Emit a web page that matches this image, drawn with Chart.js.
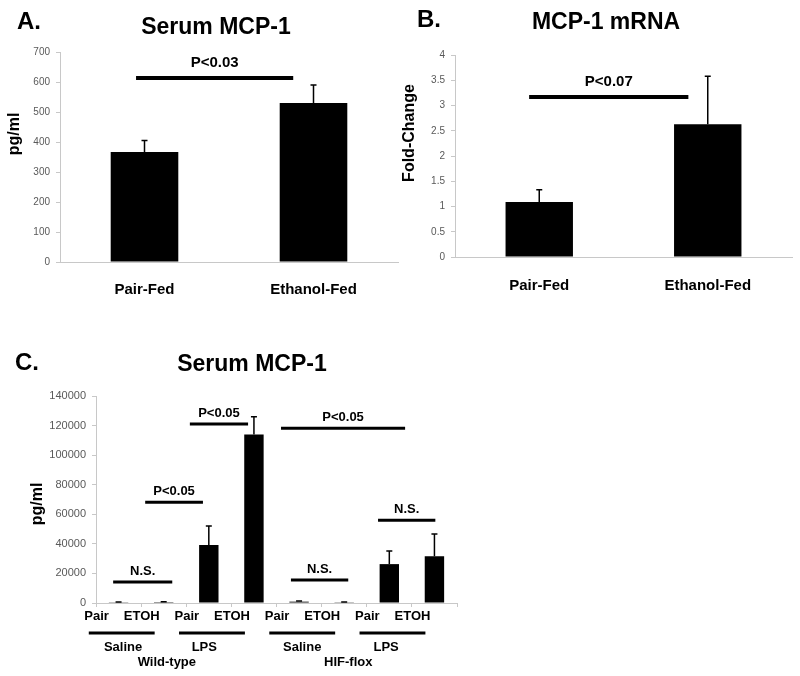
<!DOCTYPE html>
<html>
<head>
<meta charset="utf-8">
<script src="https://cdn.jsdelivr.net/npm/chart.js@4/dist/chart.umd.min.js"></script>
<style>
  body { margin: 0; background: #fff; }
  .panel { position: absolute; }
</style>
</head>
<body>
<div class="panel" style="left:0;top:0"><canvas id="chartA" width="400" height="310"></canvas></div>
<div class="panel" style="left:400px;top:0"><canvas id="chartB" width="400" height="310"></canvas></div>
<div class="panel" style="left:0;top:320px"><canvas id="chartC" width="470" height="356"></canvas></div>
<script>
// panel A - serum MCP-1 (pg/ml)
const groupsA = ['Pair-Fed', 'Ethanol-Fed'];
const serumA = [367, 530];
const serumErrA = [38, 60];
const sigA = [{ label: 'P<0.03', from: -0.05, to: 0.88, y: 613 }];

// panel B - MCP-1 mRNA (fold change)
const groupsB = ['Pair-Fed', 'Ethanol-Fed'];
const mrnaB = [1.09, 2.63];
const mrnaErrB = [0.24, 0.95];
const sigB = [{ label: 'P<0.07', from: -0.06, to: 0.885, y: 3.17 }];

// panel C - serum MCP-1 by genotype / treatment
const dietC = ['Pair', 'ETOH', 'Pair', 'ETOH', 'Pair', 'ETOH', 'Pair', 'ETOH'];
const serumC = [500, 600, 39200, 114000, 900, 500, 26300, 31700];
const serumErrC = [200, 200, 12800, 12000, 500, 200, 8800, 14900];
const treatmentC = ['Saline', 'LPS', 'Saline', 'LPS'];
const treatmentPosC = [0.1, 1.9, 4.07, 5.93];
const strainC = ['Wild-type', 'HIF-flox'];
const strainPosC = [1.07, 5.09];
const sigC = [
  { label: 'N.S.', from: -0.12, to: 1.19, y: 14200 },
  { label: 'P<0.05', from: 0.59, to: 1.87, y: 68200 },
  { label: 'P<0.05', from: 1.58, to: 2.87, y: 121000 },
  { label: 'P<0.05', from: 3.6, to: 6.35, y: 118200 },
  { label: 'N.S.', from: 3.82, to: 5.09, y: 15500 },
  { label: 'N.S.', from: 5.75, to: 7.02, y: 56000 }
];

const FONT = '"Liberation Sans", Arial, Helvetica, sans-serif';

// error bars, significance lines and panel texts
const panelDecor = {
  id: 'panelDecor',
  afterDatasetsDraw(chart, args, opts) {
    const ctx = chart.ctx;
    const xs = chart.scales.x, ys = chart.scales.y;
    const meta = chart.getDatasetMeta(0);
    const values = chart.data.datasets[0].data;
    ctx.save();
    ctx.strokeStyle = '#000';
    ctx.fillStyle = '#000';

    // upper error whiskers
    ctx.lineWidth = 1.5;
    opts.errors.forEach((e, i) => {
      const bar = meta.data[i];
      const top = ys.getPixelForValue(values[i] + e);
      ctx.beginPath();
      ctx.moveTo(bar.x, bar.y);
      ctx.lineTo(bar.x, top);
      ctx.moveTo(bar.x - 3, top);
      ctx.lineTo(bar.x + 3, top);
      ctx.stroke();
    });

    // significance bars
    ctx.textAlign = 'center';
    ctx.textBaseline = 'middle';
    ctx.font = 'bold ' + opts.sigSize + 'px ' + FONT;
    opts.sig.forEach(s => {
      const x1 = xs.getPixelForValue(s.from);
      const x2 = xs.getPixelForValue(s.to);
      const yy = ys.getPixelForValue(s.y);
      ctx.lineWidth = opts.sigWidth;
      ctx.beginPath();
      ctx.moveTo(x1, yy);
      ctx.lineTo(x2, yy);
      ctx.stroke();
      ctx.fillText(s.label, (x1 + x2) / 2, yy - opts.sigGap);
    });

    // panel letter + title
    ctx.textAlign = 'left';
    ctx.font = 'bold 24px ' + FONT;
    ctx.fillText(opts.letter.text, opts.letter.x, opts.letter.y);
    ctx.textAlign = 'center';
    ctx.font = 'bold ' + opts.title.size + 'px ' + FONT;
    ctx.fillText(opts.title.text, opts.title.x, opts.title.y);

    // y axis title
    ctx.save();
    ctx.translate(opts.yTitle.x, opts.yTitle.y);
    ctx.rotate(-Math.PI / 2);
    ctx.font = 'bold 16px ' + FONT;
    ctx.fillText(opts.yTitle.text, 0, 0);
    ctx.restore();

    // grouping labels under the x axis (panel C)
    if (opts.groups) {
      const bottom = chart.chartArea.bottom;
      ctx.font = 'bold 13px ' + FONT;
      ctx.lineWidth = 3;
      opts.groups.labels.forEach((t, g) => {
        const x1 = xs.getPixelForValue(2 * g - 0.66);
        const x2 = xs.getPixelForValue(2 * g + 0.8);
        ctx.beginPath();
        ctx.moveTo(x1, bottom + 30);
        ctx.lineTo(x2, bottom + 30);
        ctx.stroke();
        ctx.fillText(t, xs.getPixelForValue(opts.groups.pos[g]), bottom + 44);
      });
      opts.groups.strains.forEach((t, k) => {
        ctx.fillText(t, xs.getPixelForValue(opts.groups.strainPos[k]), bottom + 59);
      });
    }
    ctx.restore();
  }
};

function fixWidth(w) { return scale => { scale.width = w; }; }
function fixHeight(h) { return scale => { scale.height = h; }; }

function makeChart(id, cfg) {
  return new Chart(document.getElementById(id), {
    type: 'bar',
    data: {
      labels: cfg.labels,
      datasets: [{
        data: cfg.values,
        backgroundColor: '#000',
        borderWidth: 0,
        categoryPercentage: 1,
        barPercentage: cfg.barPct
      }]
    },
    options: {
      responsive: false,
      animation: false,
      layout: { padding: cfg.padding },
      plugins: {
        legend: { display: false },
        tooltip: { enabled: false },
        panelDecor: cfg.decor
      },
      scales: {
        x: {
          afterFit: fixHeight(cfg.xHeight),
          border: { color: '#c8c8c8', width: 1 },
          grid: cfg.xGrid,
          ticks: {
            color: '#000',
            font: { family: FONT, size: cfg.xFont, weight: 'bold' },
            padding: cfg.xPad,
            labelOffset: cfg.labelOffset || 0,
            maxRotation: 0,
            autoSkip: false
          }
        },
        y: {
          min: 0,
          max: cfg.yMax,
          afterFit: fixWidth(cfg.yWidth),
          border: { color: '#c8c8c8', width: 1 },
          grid: { drawOnChartArea: false, drawTicks: true, tickLength: 4, color: '#c8c8c8' },
          ticks: {
            stepSize: cfg.yStep,
            color: '#595959',
            padding: 6,
            font: { family: FONT, size: cfg.yFont },
            callback: v => String(v)
          }
        }
      }
    },
    plugins: [panelDecor]
  });
}

makeChart('chartA', {
  labels: groupsA, values: serumA, barPct: 0.4,
  padding: { top: 52, right: 2, left: 0, bottom: 0 },
  xHeight: 48, yWidth: 60, yMax: 700, yStep: 100, yFont: 10,
  xFont: 15, xPad: 19, xGrid: { display: false, drawTicks: false },
  decor: {
    errors: serumErrA, sig: sigA, sigSize: 15, sigWidth: 4, sigGap: 15,
    letter: { text: 'A.', x: 17, y: 22 },
    title: { text: 'Serum MCP-1', x: 216, y: 28, size: 23 },
    yTitle: { text: 'pg/ml', x: 15, y: 134 }
  }
});

makeChart('chartB', {
  labels: groupsB, values: mrnaB, barPct: 0.4,
  padding: { top: 55, right: 8, left: 0, bottom: 0 },
  xHeight: 53, yWidth: 55, yMax: 4, yStep: 0.5, yFont: 10,
  xFont: 15, xPad: 20, xGrid: { display: false, drawTicks: false },
  decor: {
    errors: mrnaErrB, sig: sigB, sigSize: 15, sigWidth: 4, sigGap: 15,
    letter: { text: 'B.', x: 17, y: 20 },
    title: { text: 'MCP-1 mRNA', x: 206, y: 23, size: 23 },
    yTitle: { text: 'Fold-Change', x: 10, y: 133 }
  }
});

makeChart('chartC', {
  labels: dietC, values: serumC, barPct: 0.43,
  padding: { top: 76, right: 13, left: 0, bottom: 0 },
  xHeight: 73, yWidth: 96, yMax: 140000, yStep: 20000, yFont: 11,
  xFont: 13, xPad: 2, labelOffset: -22,
  xGrid: { offset: true, drawOnChartArea: false, drawTicks: true, tickLength: 4, color: '#c8c8c8' },
  decor: {
    errors: serumErrC, sig: sigC, sigSize: 13, sigWidth: 3, sigGap: 11,
    letter: { text: 'C.', x: 15, y: 43 },
    title: { text: 'Serum MCP-1', x: 252, y: 45, size: 23 },
    yTitle: { text: 'pg/ml', x: 38, y: 184 },
    groups: { labels: treatmentC, pos: treatmentPosC, strains: strainC, strainPos: strainPosC }
  }
});
</script>
</body>
</html>
